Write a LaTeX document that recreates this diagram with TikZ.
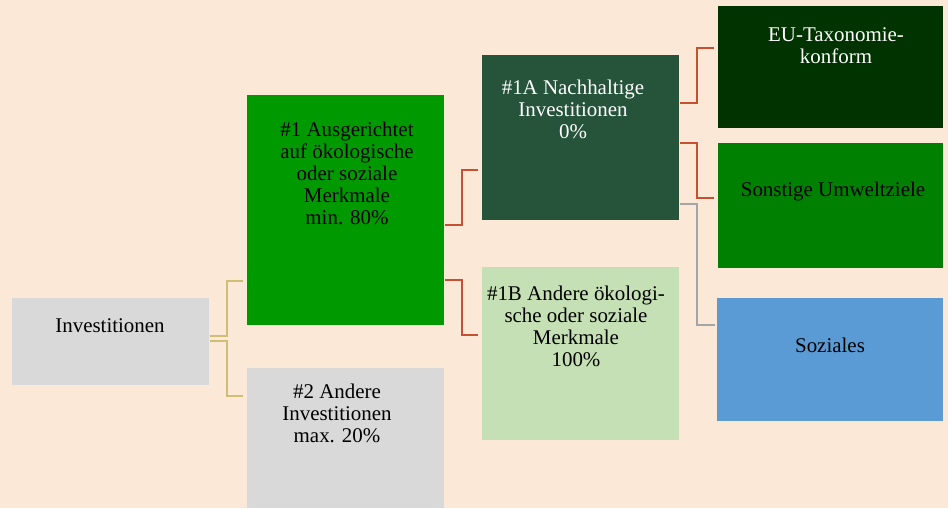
\documentclass[tikz,border=0pt]{standalone}
\usepackage{fontspec}
\setmainfont{Liberation Serif}
\usepackage{xcolor}
\usetikzlibrary{positioning, calc}

\definecolor{paper}{RGB}{251,232,215}
\definecolor{greybox}{RGB}{217,217,217}
\definecolor{greenA}{RGB}{0,153,0}
\definecolor{darkA}{RGB}{37,84,58}
\definecolor{lightB}{RGB}{197,224,180}
\definecolor{taxgreen}{RGB}{0,51,0}
\definecolor{envgreen}{RGB}{0,128,0}
\definecolor{socblue}{RGB}{91,155,213}
\definecolor{tanline}{RGB}{207,191,118}
\definecolor{redline}{RGB}{197,80,50}
\definecolor{greyline}{RGB}{165,165,165}

\tikzset{
  box/.style={rectangle, inner sep=0pt, anchor=north west},
  txt/.style={anchor=north, inner sep=0pt, align=center, font=\fontsize{15.7}{16.5}\selectfont},
  link/.style={line width=1.5pt, shorten >=3pt}
}

\begin{document}
\begin{tikzpicture}[x=0.75pt, y=-0.75pt]

\fill [paper] (0,0) rectangle (948,508);
\useasboundingbox (0,0) rectangle (948,508);

% boxes
\node [box, fill=greybox, minimum width=147.75pt, minimum height=65.25pt] (inv) at (12,298) {};
\node [box, fill=greenA, minimum width=147.75pt, minimum height=172.5pt] (one) at (247,95) {};
\node [box, fill=greybox, minimum width=147.75pt, minimum height=105pt] (two) at (247,368) {};
\node [box, fill=darkA, minimum width=147.75pt, minimum height=123.75pt] (onea) at (482,55) {};
\node [box, fill=lightB, minimum width=147.75pt, minimum height=129.75pt] (oneb) at (482,267) {};
\node [box, fill=taxgreen, minimum width=168.75pt, minimum height=91.5pt] (taxo) at (718,6) {};
\node [box, fill=envgreen, minimum width=168.75pt, minimum height=93.75pt] (env) at (718,143) {};
\node [box, fill=socblue, minimum width=169.5pt, minimum height=92.25pt] (soc) at (717,298) {};

% texts
\node [txt] (inv-txt) at (110,318) {Investitionen};
\node [txt] (one-txt) at (347,122) {\#1 Ausgerichtet\\auf ökologische\\oder soziale\\Merkmale\\min. 80\%};
\node [txt] (two-txt) at (337,384) {\#2 Andere\\Investitionen\\max. 20\%};
\node [txt, text=white] (onea-txt) at (573,80) {\#1A Nachhaltige\\Investitionen\\0\%};
\node [txt] (oneb-txt) at (576,286) {\#1B Andere ökologi-\\sche oder soziale\\Merkmale\\100\%};
\node [txt, text=white] (taxo-txt) at (836,27) {EU-Taxonomie-\\konform};
\node [txt] (env-txt) at (833,182) {Sonstige Umweltziele};
\node [txt] (soc-txt) at (830,338) {Soziales};

% connectors
\draw [link, tanline] (inv.east |- 0,336) -- ++(17,0) |- (one.west |- 0,281);
\draw [link, tanline] (inv.east |- 0,341) -- ++(17,0) |- (two.west |- 0,396);

\draw [link, redline] (one.east |- 0,225) -- ++(17,0) |- (onea.west |- 0,170);
\draw [link, redline] (one.east |- 0,280) -- ++(17,0) |- (oneb.west |- 0,335);

\draw [link, redline] (onea.east |- 0,103) -- ++(17,0) |- (taxo.west |- 0,48);
\draw [link, redline] (onea.east |- 0,143) -- ++(17,0) |- (env.west |- 0,198);
\draw [link, greyline, shorten >=1.5pt] (onea.east |- 0,204) -- ++(17,0) |- (soc.west |- 0,325);

\end{tikzpicture}
\end{document}
